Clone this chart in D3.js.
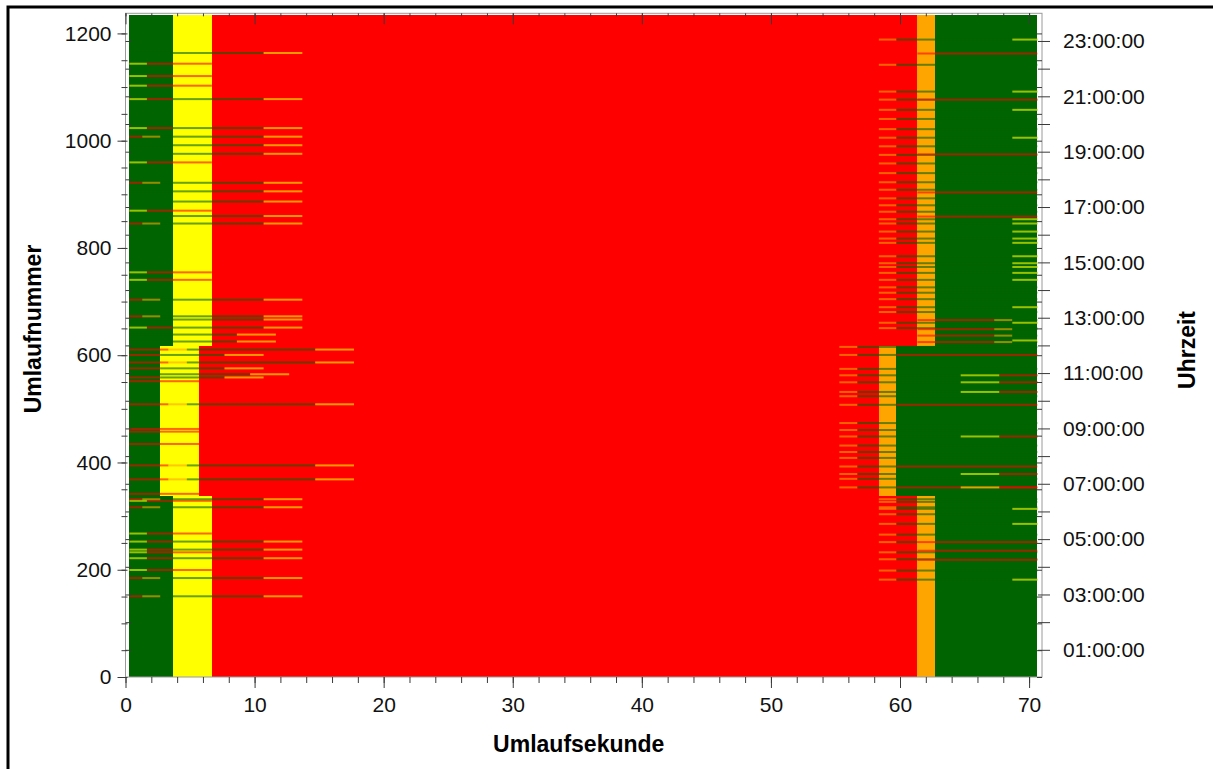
<!DOCTYPE html>
<html>
<head>
<meta charset="utf-8">
<script src="https://cdn.jsdelivr.net/npm/d3@7"></script>
<style>
  html, body { margin: 0; padding: 0; background: #fff; }
  svg { display: block; font-family: "Liberation Sans", Arial, sans-serif; }
</style>
</head>
<body>
<div id="chart"></div>
<script>
// Signalzeitenplan: Umlaufsekunde x Umlaufnummer

// phase colours
const phaseColor = { G: "#006400", Y: "#ffff00", R: "#ff0000", RY: "#ffa500" };

// base programmes [from second, to second, phase]
const planA = [[0.3, 3.66, "G"], [3.66, 6.69, "Y"], [6.69, 61.35, "R"], [61.35, 62.72, "RY"], [62.72, 70.64, "G"]];
const planB = [[0.3, 2.69, "G"], [2.69, 5.71, "Y"], [5.71, 58.36, "R"], [58.36, 59.72, "RY"], [59.72, 70.64, "G"]];
// cycle ranges where each programme runs
const planRanges = [[0, 337, "A"], [337, 617, "B"], [617, 1234.5, "A"]];

// deviating cycles: patterns (seconds) ...
const patE1 = [[0.3, 10.7, "G"], [10.7, 13.7, "Y"]];
const patE2 = [[0.3, 8.63, "G"], [8.63, 11.65, "Y"]];
const patS = [[0.3, 1.66, "Y"], [1.66, 6.69, "R"]];
const patSE = [[0.3, 1.66, "Y"], [1.66, 3.66, "R"], [3.66, 10.7, "G"], [10.7, 13.7, "Y"]];
const patRE = [[0.3, 1.3, "R"], [1.3, 2.7, "RY"], [2.7, 10.7, "G"], [10.7, 13.7, "Y"]];
const patBRL = [[0.3, 3.33, "R"], [3.33, 4.75, "RY"], [4.75, 14.7, "G"], [14.7, 17.7, "Y"]];
const patBM = [[0.3, 2.69, "R"], [2.69, 7.67, "G"], [7.67, 10.7, "Y"]];
const patBE3 = [[0.3, 9.66, "G"], [9.66, 12.68, "Y"]];
const patBRRL = [[0.3, 5.71, "R"]];
const patRB = [[58.36, 59.72, "RY"], [59.72, 70.64, "G"]];
const patRR = [[61.35, 70.64, "R"]];
const patRBR = [[58.36, 59.72, "RY"], [59.72, 61.35, "G"], [61.35, 70.64, "R"]];
const patRD = [[61.35, 67.3, "R"], [67.3, 68.7, "RY"], [68.7, 70.64, "G"]];
const patYE = [[68.7, 70.64, "Y"]];
const patBE = [[55.3, 56.7, "RY"], [56.7, 70.64, "G"]];
const patBRR = [[55.3, 56.7, "RY"], [56.7, 59.72, "G"], [59.72, 70.64, "R"]];
const patBYR = [[64.7, 67.7, "Y"], [67.7, 70.64, "R"]];

// ... and the cycles in which they occur
const cyclesE1 = [1163, 991, 975, 905, 886, 859, 666];
const cyclesE2 = [638, 625];
const cyclesS = [1143, 1120, 1102, 959, 869, 754, 740, 328, 267, 232, 199];
const cyclesSE = [1077, 1023, 651, 252, 237, 221];
const cyclesRE = [1007, 921, 845, 703, 672, 331, 316, 184, 150];
const cyclesBRL = [610, 586, 508, 394, 368];
const cyclesBM = [600, 575, 558];
const cyclesBE3 = [564];
const cyclesBRRL = [551, 462, 457, 434, 341];
const cyclesRB = [1188, 1141, 1091, 1076, 1057, 1040, 1021, 1005, 989, 973, 957, 939, 922, 908, 892, 879, 867, 853,
  845, 830, 817, 809, 784, 771, 764, 753, 740, 726, 716, 704, 689, 680, 660, 650, 331, 326, 316, 313, 303, 285, 265,
  232, 219, 198, 181];
const cyclesRR = [1162, 1076, 974, 903, 858, 235, 218];
const cyclesRBR = [251];
const cyclesRD = [665, 648, 636, 624];
const cyclesYE = [1188, 1091, 1057, 1005, 853, 845, 830, 817, 809, 784, 771, 764, 753, 740, 689, 660, 627, 313, 285, 181];
const cyclesBE = [615, 574, 562, 549, 531, 523, 473, 460, 448, 431, 419, 408, 378, 369];
const cyclesBRR = [600, 507, 392, 353];
const cyclesBYR = [562, 549, 531, 448, 378, 353];

// axis ticks
const xMajorTicks = [0, 10, 20, 30, 40, 50, 60, 70];
const xMinorTicks = d3.range(0, 71, 2);
const yMajorTicks = [0, 200, 400, 600, 800, 1000, 1200];
const yMinorTicks = d3.range(0, 1236, 50);
const hourTicks = d3.range(1, 24);
const hourLabels = ["01:00:00", "03:00:00", "05:00:00", "07:00:00", "09:00:00", "11:00:00",
  "13:00:00", "15:00:00", "17:00:00", "19:00:00", "21:00:00", "23:00:00"];

(function() {
  const W = 1213, H = 769;
  const plans = { A: planA, B: planB };
  const deviations = [
    [patE1, cyclesE1], [patE2, cyclesE2], [patS, cyclesS], [patSE, cyclesSE], [patRE, cyclesRE],
    [patBRL, cyclesBRL], [patBM, cyclesBM], [patBE3, cyclesBE3], [patBRRL, cyclesBRRL],
    [patRB, cyclesRB], [patRR, cyclesRR], [patRBR, cyclesRBR], [patRD, cyclesRD], [patYE, cyclesYE],
    [patBE, cyclesBE], [patBRR, cyclesBRR], [patBYR, cyclesBYR]
  ];

  const svg = d3.select("#chart").append("svg").attr("width", W).attr("height", H);

  const x = d3.scaleLinear().domain([0, 71]).range([125.5, 1042]);
  const y = d3.scaleLinear().domain([0, 1237.5]).range([677, 13.3]);
  const t = d3.scaleLinear().domain([0, 24]).range([677.5, 13.3]);

  const axisColor = "#9a9a9a", tickColor = "#3a3a3a", fontSize = "21px";

  // base programme bands
  const base = svg.append("g");
  planRanges.forEach(([c0, c1, p]) => {
    plans[p].forEach(([s0, s1, ph]) => {
      base.append("rect")
        .attr("x", x(s0)).attr("width", x(s1) - x(s0))
        .attr("y", y(c1)).attr("height", y(c0) - y(c1))
        .attr("fill", phaseColor[ph]).attr("shape-rendering", "crispEdges");
    });
  });

  // deviating cycles, thin rows
  const rows = svg.append("g");
  deviations.forEach(([pat, cycles]) => {
    cycles.forEach(c => {
      pat.forEach(([s0, s1, ph]) => {
        rows.append("rect")
          .attr("x", x(s0)).attr("width", x(s1) - x(s0))
          .attr("y", y(c + 0.5) - 1).attr("height", 2)
          .attr("fill", phaseColor[ph]).attr("opacity", 0.6);
      });
    });
  });

  // frame
  svg.append("rect")
    .attr("x", x(0)).attr("y", y.range()[1])
    .attr("width", x(71) - x(0)).attr("height", y.range()[0] - y.range()[1])
    .attr("fill", "none").attr("stroke", axisColor).attr("stroke-width", 1);

  function style(g) {
    g.select(".domain").remove();
    g.selectAll(".tick line").attr("stroke", tickColor);
    g.selectAll(".tick text").attr("fill", "#111").style("font-size", fontSize)
      .style("font-family", "'Liberation Sans', Arial, sans-serif");
  }

  // bottom axis
  svg.append("g").attr("transform", `translate(0,${y.range()[0]})`)
    .call(d3.axisBottom(x).tickValues(xMinorTicks).tickSize(6).tickFormat("")).call(style);
  svg.append("g").attr("transform", `translate(0,${y.range()[0]})`)
    .call(d3.axisBottom(x).tickValues(xMajorTicks).tickSize(11).tickPadding(9).tickFormat(d3.format("d"))).call(style);
  // top axis (inward)
  svg.append("g").attr("transform", `translate(0,${y.range()[1]})`)
    .call(d3.axisBottom(x).tickValues(xMinorTicks).tickSize(3).tickFormat("")).call(style);
  svg.append("g").attr("transform", `translate(0,${y.range()[1]})`)
    .call(d3.axisBottom(x).tickValues(xMajorTicks).tickSize(11).tickFormat("")).call(style);

  // left axis
  svg.append("g").attr("transform", `translate(${x(0)},0)`)
    .call(d3.axisLeft(y).tickValues(yMinorTicks).tickSize(4).tickFormat("")).call(style)
    .selectAll(".tick line").attr("x2", -4).attr("x1", 2);
  svg.append("g").attr("transform", `translate(${x(0)},0)`)
    .call(d3.axisLeft(y).tickValues(yMajorTicks).tickSize(8).tickPadding(6).tickFormat(d3.format("d"))).call(style);
  svg.append("g").attr("transform", `translate(${x(0)},0)`)
    .call(d3.axisRight(t).tickValues(hourTicks).tickSize(6).tickFormat("")).call(style);

  // right axis
  svg.append("g").attr("transform", `translate(${x(71)},0)`)
    .call(d3.axisLeft(y).tickValues(yMinorTicks).tickSize(5).tickFormat("")).call(style)
    .selectAll(".tick line").attr("x2", -5).attr("x1", 0);
  const rightAxis = svg.append("g").attr("transform", `translate(${x(71)},0)`)
    .call(d3.axisRight(t).tickValues(hourTicks).tickSize(8).tickPadding(13)
      .tickFormat(h => h % 2 === 1 ? hourLabels[(h - 1) / 2] : "")).call(style);
  rightAxis.selectAll(".tick line").attr("x1", -4);

  // axis titles
  svg.append("text").attr("x", (x(0) + x(71)) / 2 - 5).attr("y", 752)
    .attr("text-anchor", "middle").style("font-size", "23px").style("font-weight", "bold")
    .text("Umlaufsekunde");
  svg.append("text").attr("transform", "translate(41,329) rotate(-90)")
    .attr("text-anchor", "middle").style("font-size", "23px").style("font-weight", "bold")
    .text("Umlaufnummer");
  svg.append("text").attr("transform", "translate(1195,350) rotate(-90)")
    .attr("text-anchor", "middle").style("font-size", "23px").style("font-weight", "bold")
    .text("Uhrzeit");

  // outer border
  svg.append("rect").attr("x", 8).attr("y", 7).attr("width", 1400).attr("height", 1000)
    .attr("fill", "none").attr("stroke", "#000").attr("stroke-width", 3);
})();
</script>
</body>
</html>
